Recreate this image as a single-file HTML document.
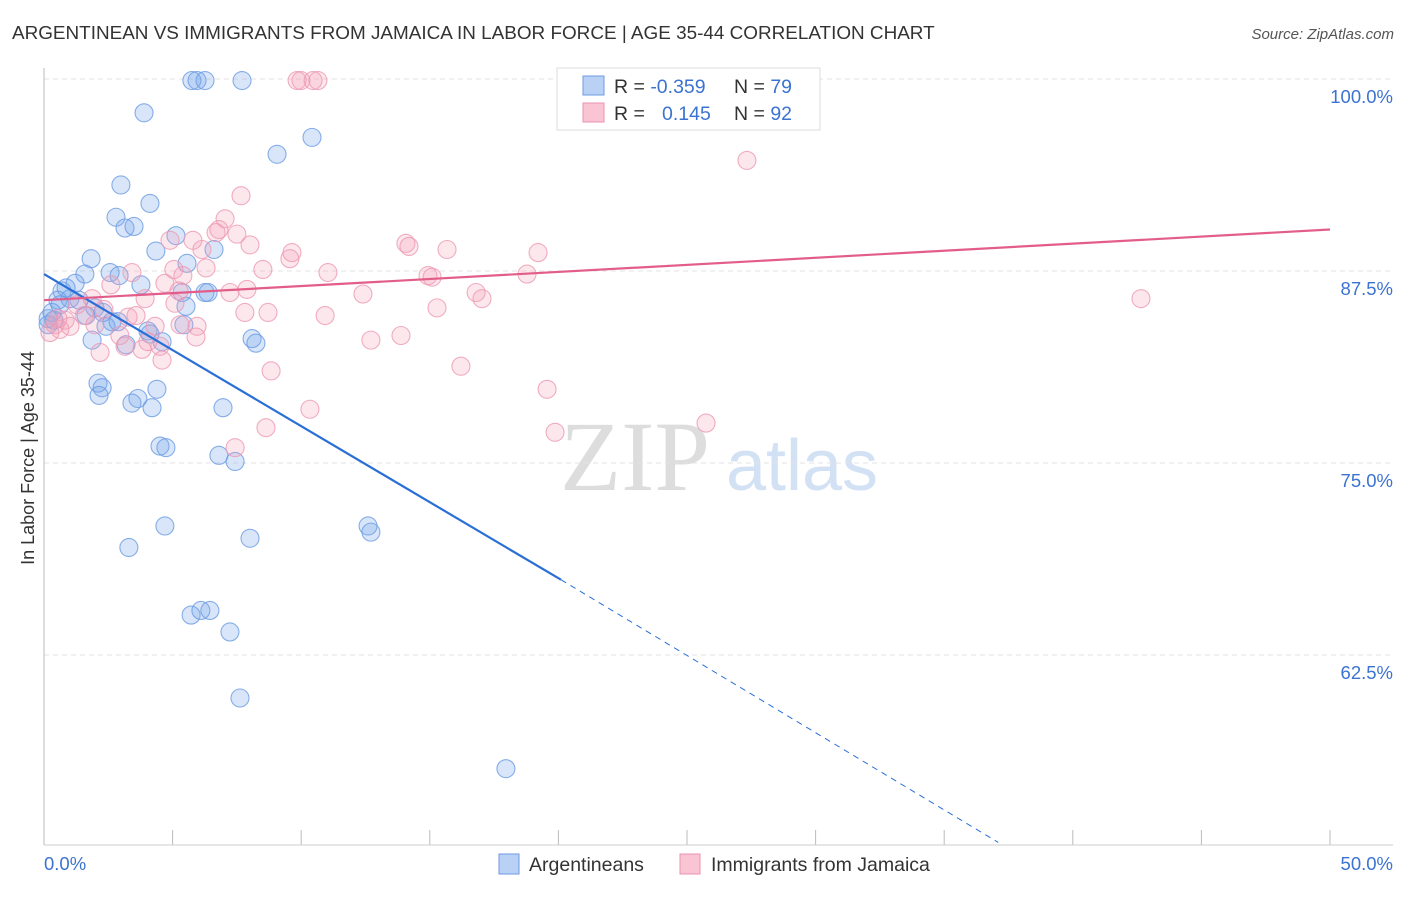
<!DOCTYPE html>
<html><head><meta charset="utf-8"><style>
body{margin:0;background:#fff;font-family:"Liberation Sans",sans-serif}
svg text{font-family:"Liberation Sans",sans-serif}
</style></head><body>
<svg id="c" width="1406" height="892" viewBox="0 0 1406 892">
<text x="12" y="39" font-size="18.9" fill="#333">ARGENTINEAN VS IMMIGRANTS FROM JAMAICA IN LABOR FORCE | AGE 35-44 CORRELATION CHART</text>
<text x="1394" y="39" font-size="15" fill="#555" font-style="italic" text-anchor="end">Source: ZipAtlas.com</text>
<text x="635" y="490" font-size="100" fill="#ddd" text-anchor="middle" style="font-family:'Liberation Serif',serif">ZIP</text>
<text x="802" y="490" font-size="72" fill="#d3e1f4" text-anchor="middle">atlas</text>
<g id="grid"></g>
<line x1="44" y1="68" x2="44" y2="845" stroke="#bbb"/>
<line x1="44" y1="845" x2="1393" y2="845" stroke="#ccc"/>
<text transform="translate(34,458) rotate(-90)" font-size="18" fill="#333" text-anchor="middle">In Labor Force | Age 35-44</text>
<text x="44" y="870" font-size="18.5" fill="#3b73d1">0.0%</text>
<text x="1393" y="870" font-size="18.5" fill="#3b73d1" text-anchor="end">50.0%</text>
<g id="pts"></g>
<g id="lines"></g>
<g>
<rect x="557" y="68" width="263" height="62" fill="#fff" stroke="#ddd"/>
<rect x="583" y="76" width="21" height="19" fill="#b9d1f4" stroke="#6d9be3"/>
<rect x="583" y="103" width="21" height="19" fill="#f9c5d4" stroke="#eb93ae"/>
<text x="614" y="93" font-size="19.5" fill="#333">R = <tspan fill="#3b73d1">-0.359</tspan></text>
<text x="734" y="93" font-size="19.5" fill="#333">N = <tspan fill="#3b73d1">79</tspan></text>
<text x="614" y="120" font-size="19.5" fill="#333">R = </text>
<text x="662" y="120" font-size="19.5" fill="#3b73d1">0.145</text>
<text x="734" y="120" font-size="19.5" fill="#333">N = <tspan fill="#3b73d1">92</tspan></text>
</g>
<g>
<rect x="499" y="854" width="20" height="20" fill="#b9d1f4" stroke="#6d9be3"/>
<text x="529" y="871" font-size="19.5" fill="#333">Argentineans</text>
<rect x="680" y="854" width="20" height="20" fill="#f9c5d4" stroke="#eb93ae"/>
<text x="711" y="871" font-size="19.5" fill="#333">Immigrants from Jamaica</text>
</g>
</svg>
<script>
const yTicks=[100,87.5,75,62.5];
const yTickLabels=["100.0%","87.5%","75.0%","62.5%"];
const xTicks=[0,5,10,15,20,25,30,35,40,45,50];
const blueX=[5.75,5.95,6.26,7.70,3.89,9.06,10.42,2.99,4.12,2.80,3.15,3.50,4.35,5.13,5.56,1.83,1.59,1.21,0.70,0.54,1.01,1.36,2.57,2.92,3.77,5.37,6.26,6.38,1.98,2.29,0.31,0.16,1.63,2.41,2.88,4.04,4.59,5.52,5.44,1.87,3.19,6.61,8.09,8.24,2.10,2.26,2.14,4.39,3.65,3.42,4.20,6.96,4.51,4.74,6.80,7.43,4.70,3.30,8.01,12.60,12.71,5.72,6.10,6.45,7.23,7.62,17.96,0.39,0.62,0.86,0.16,2.64,4.12];
const blueY=[99.9,99.9,99.9,99.9,97.8,95.1,96.2,93.1,91.9,91.0,90.3,90.4,88.8,89.8,88.0,88.3,87.3,86.7,86.2,85.6,85.7,85.6,87.4,87.2,86.6,86.1,86.1,86.1,85.1,84.8,84.8,84.4,84.6,83.9,84.2,83.6,82.9,85.2,84.0,83.0,82.7,88.9,83.1,82.8,80.2,79.9,79.4,79.8,79.2,78.9,78.6,78.6,76.1,76.0,75.5,75.1,70.9,69.5,70.1,70.9,70.5,65.1,65.4,65.4,64.0,59.7,55.1,84.3,85.3,86.4,84.0,84.2,83.4];
const pinkX=[9.84,9.99,10.46,10.65,20.30,27.33,7.66,7.04,6.69,6.80,7.50,4.90,5.79,8.01,6.14,9.64,9.56,14.07,14.19,15.67,19.21,8.51,11.04,5.05,5.40,6.30,14.93,15.09,18.78,4.70,5.25,7.89,7.23,3.93,12.40,16.80,17.03,3.42,2.60,1.87,42.65,15.28,7.81,8.71,10.93,1.28,1.56,2.33,3.27,3.58,1.98,4.32,5.95,4.51,5.91,12.71,13.88,3.15,2.18,3.81,4.59,8.83,16.21,19.56,10.34,19.87,25.74,8.63,7.43,0.62,0.43,0.82,0.23,1.01,0.54,2.95,4.04,5.09,5.29];
const pinkY=[99.9,99.9,99.9,99.9,99.9,94.7,92.4,90.9,90.0,90.2,89.9,89.5,89.5,89.2,88.9,88.7,88.3,89.3,89.1,88.9,88.7,87.6,87.4,87.6,87.2,87.7,87.2,87.1,87.3,86.7,86.2,86.3,86.1,85.7,86.0,86.1,85.7,87.4,86.6,85.7,85.7,85.1,84.8,84.8,84.6,85.3,84.6,85.0,84.5,84.6,84.0,83.9,83.9,82.6,83.2,83.0,83.3,82.6,82.2,82.4,81.7,81.0,81.3,79.8,78.5,77.0,77.6,77.3,76.0,83.7,84.0,84.3,83.5,83.9,84.4,83.3,82.9,85.4,84.0];
const blueTrend=[[0,87.3],[20.1,67.4],[37.1,50.3]];
const pinkTrend=[[0,85.6],[50,90.2]];
const NS="http://www.w3.org/2000/svg";
const sx=v=>44+v*25.72;
const sy=v=>79+(100-v)*15.36;
function mk(tag,attrs,parent){const e=document.createElementNS(NS,tag);for(const k in attrs)e.setAttribute(k,attrs[k]);parent.appendChild(e);return e;}
const grid=document.getElementById('grid');
yTicks.forEach((t,i)=>{
 const l=mk('line',{x1:44,x2:1393,y1:sy(t),y2:sy(t),stroke:'#e3e3e3','stroke-dasharray':'5,4'},grid);
 
 
 const tx=mk('text',{x:1393,y:sy(t)+24,'font-size':18.5,fill:'#3b73d1','text-anchor':'end'},grid);
 tx.textContent=yTickLabels[i];
 
 
});
xTicks.forEach(t=>{
 const l=mk('line',{x1:sx(t),x2:sx(t),y1:830,y2:845,stroke:'#bbb'},grid);
 
 
});
const pts=document.getElementById('pts');
blueX.forEach((v,i)=>{
 const c=mk('circle',{cx:sx(v),cy:sy(blueY[i]),r:9,fill:'rgba(120,165,235,0.28)',stroke:'#6a9be4','stroke-width':1.1,'stroke-opacity':0.8},pts);
 
 
});
pinkX.forEach((v,i)=>{
 const c=mk('circle',{cx:sx(v),cy:sy(pinkY[i]),r:9,fill:'rgba(245,160,185,0.25)',stroke:'#ee98b3','stroke-width':1.1,'stroke-opacity':0.8},pts);
 
 
});
const lines=document.getElementById('lines');
const b1=mk('line',{x1:sx(blueTrend[0][0]),y1:sy(blueTrend[0][1]),x2:sx(blueTrend[1][0]),y2:sy(blueTrend[1][1]),stroke:'#2a6fd6','stroke-width':2.2},lines);


const b2=mk('line',{x1:sx(blueTrend[1][0]),y1:sy(blueTrend[1][1]),x2:sx(blueTrend[2][0]),y2:sy(blueTrend[2][1]),stroke:'#2a6fd6','stroke-width':1,'stroke-dasharray':'6,5'},lines);


const p1=mk('line',{x1:sx(pinkTrend[0][0]),y1:sy(pinkTrend[0][1]),x2:sx(pinkTrend[1][0]),y2:sy(pinkTrend[1][1]),stroke:'#e35d8a','stroke-width':2.2},lines);


</script>
</body></html>
